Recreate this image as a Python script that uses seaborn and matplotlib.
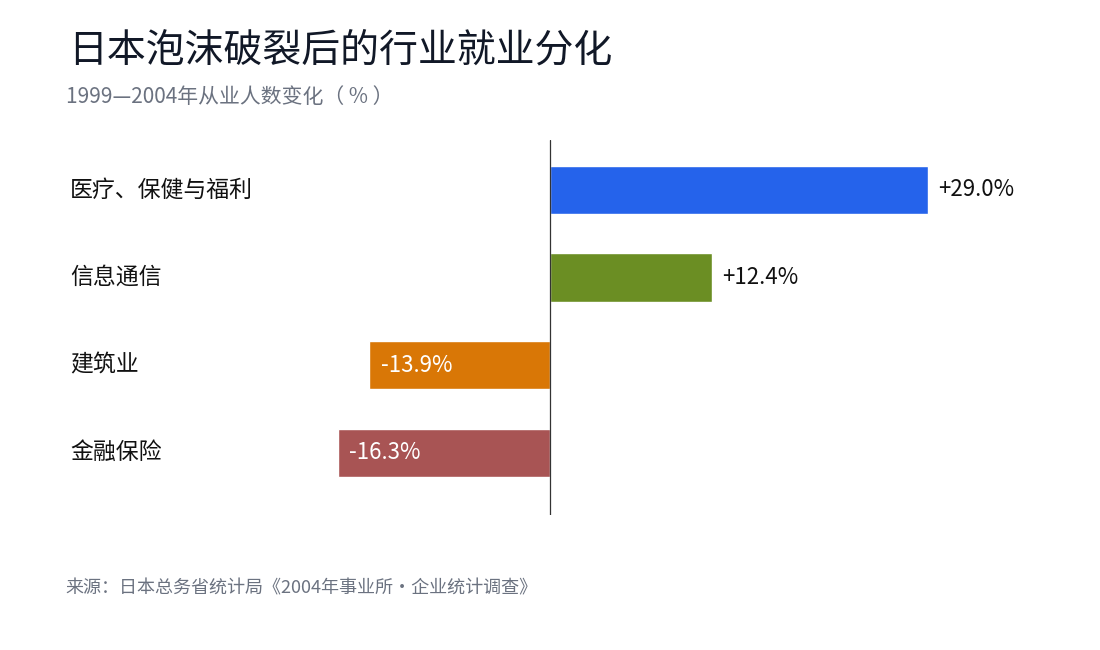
import matplotlib
matplotlib.use("Agg")
import matplotlib.pyplot as plt
import matplotlib.transforms as mtransforms
import seaborn as sns
import pandas as pd

categories = ["医疗、保健与福利", "信息通信", "建筑业", "金融保险"]
changes = [29.0, 12.4, -13.9, -16.3]
colors = ["#2563EB", "#6B8E23", "#D97706", "#A85454"]

sns.set_theme(style="white")
plt.rcParams["font.family"] = ["Noto Sans CJK SC", "DejaVu Sans"]

df = pd.DataFrame({"cat": categories, "val": changes})

fig = plt.figure(figsize=(11, 6.5), dpi=100)
ax = fig.add_axes([330 / 1100, 1 - 515 / 650, 720 / 1100, 375 / 650])
sns.barplot(data=df, x="val", y="cat", hue="cat", palette=colors, legend=False,
            width=0.55, orient="h", ax=ax, saturation=1)

ax.set_xlim(-220 / 13.03, 500 / 13.03)
ax.set_ylim(3.71, -0.57)
ax.axvline(0, color="#333333", lw=0.9)
for s in ax.spines.values():
    s.set_visible(False)
ax.set_xticks([])
ax.set_yticks([])
ax.set_xlabel("")
ax.set_ylabel("")

trans = mtransforms.blended_transform_factory(fig.transFigure, ax.transData)
for i, (c, v) in enumerate(zip(categories, changes)):
    ax.text(70 / 1100, i, c, transform=trans, va="center", ha="left",
            fontsize=16.5, color="#111111")
    if v >= 0:
        ax.text(v + 0.8, i, f"+{v:.1f}%", va="center", ha="left", fontsize=16, color="#111111")
    else:
        ax.text(v + 0.9, i, f"{v:.1f}%", va="center", ha="left", fontsize=16, color="white")

fig.text(68 / 1100, 1 - 50 / 650, "日本泡沫破裂后的行业就业分化", fontsize=28,
         va="center", ha="left", color="#111827")
fig.text(66 / 1100, 1 - 97 / 650, "1999—2004年从业人数变化（ % ）", fontsize=15,
         va="center", ha="left", color="#6B7280")
fig.text(65 / 1100, 1 - 588 / 650, "来源：日本总务省统计局《2004年事业所·企业统计调查》", fontsize=13,
         va="center", ha="left", color="#6B7280")

fig.savefig("out.png", dpi=100, facecolor="white")
